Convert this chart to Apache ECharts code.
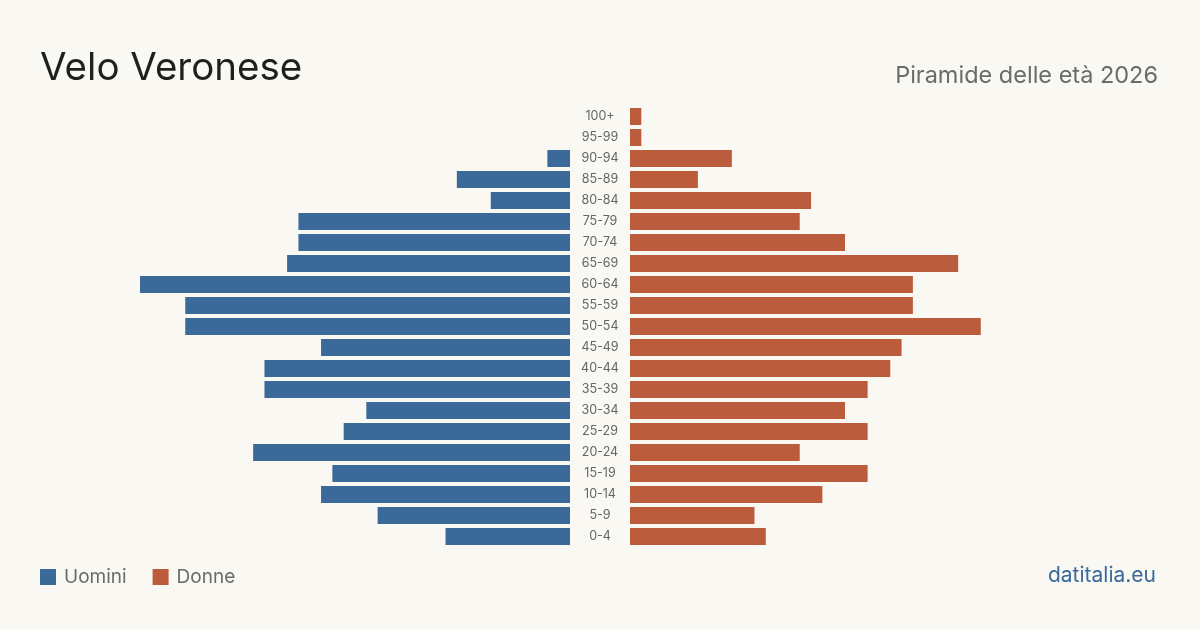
<!DOCTYPE html>
<html><head><meta charset="utf-8">
<script src="https://cdn.jsdelivr.net/npm/echarts@6/dist/echarts.min.js"></script>
<style>html,body{margin:0;padding:0;background:#f9f8f3}#c{width:1200px;height:630px}</style>
</head><body><div id="c"></div>
<script>
const categories = ['100+','95-99','90-94','85-89','80-84','75-79','70-74','65-69','60-64','55-59','50-54','45-49','40-44','35-39','30-34','25-29','20-24','15-19','10-14','5-9','0-4'];
const uomini = [0,0,2,10,7,24,24,25,38,34,34,22,27,27,18,20,28,21,22,17,11];
const donne  = [1,1,9,6,16,15,19,29,25,25,31,24,23,21,19,21,15,21,17,11,12];
const titleText = 'Velo Veronese';
const subtitleText = 'Piramide delle età 2026';
const sourceText = 'datitalia.eu';

const FONT = 'Inter, "Noto Sans", sans-serif';
const BLUE = '#3b6a9a', ORANGE = '#bb5d3c';
const MAX = 38;
const chart = echarts.init(document.getElementById('c'), null, {renderer:'canvas'});
chart.setOption({
  backgroundColor: '#f9f8f3',
  animation: false,
  textStyle: {fontFamily: FONT},
  graphic: [
    {type:'text', left:40, top:49, style:{text:titleText, font:'38.5px '+FONT, fill:'#1f1f1f'}},
    {type:'text', right:42, top:64, style:{text:subtitleText, font:'23.5px '+FONT, fill:'#6b6b6b'}},
    {type:'text', right:44, top:565, style:{text:sourceText, font:'21px '+FONT, fill:'#3b6a9a'}}
  ],
  legend: {
    left: 40, top: 567.5, padding: 0, itemWidth: 16, itemHeight: 16, itemGap: 26, icon: 'rect',
    textStyle: {fontSize: 19, color: '#6b6b6b', fontFamily: FONT, padding:[0,0,0,3]},
    data: ['Uomini','Donne']
  },
  grid: [
    {left:140, width:430, top:106, height:441},
    {left:630, width:430, top:106, height:441}
  ],
  xAxis: [
    {gridIndex:0, type:'value', min:0, max:MAX, inverse:true, show:false},
    {gridIndex:1, type:'value', min:0, max:MAX, show:false}
  ],
  yAxis: [
    {gridIndex:0, type:'category', data:categories, position:'right', inverse:true,
     axisLine:{show:false}, axisTick:{show:false},
     axisLabel:{margin:30, align:'center', fontSize:12.5, color:'#666', fontFamily:FONT, padding:[2,0,0,0]}},
    {gridIndex:1, type:'category', data:categories, inverse:true, show:false}
  ],
  series: [
    {name:'Uomini', type:'bar', xAxisIndex:0, yAxisIndex:0, data:uomini, barWidth:17, itemStyle:{color:BLUE}},
    {name:'Donne', type:'bar', xAxisIndex:1, yAxisIndex:1, data:donne, barWidth:17, itemStyle:{color:ORANGE}}
  ]
});
</script></body></html>
